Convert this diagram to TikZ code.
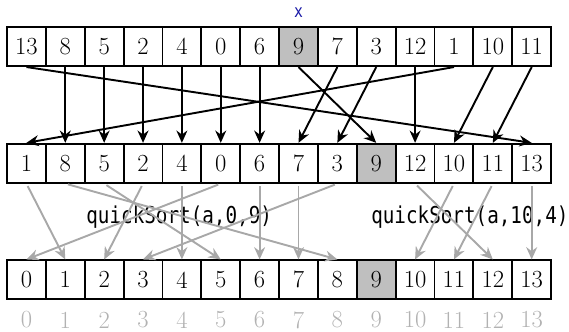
\documentclass[tikz,border=0pt]{standalone}
\usepackage{fontspec}
\usetikzlibrary{arrows.meta}
\newfontfamily\codefont[FakeStretch=0.83]{DejaVu Sans Mono}
\definecolor{pivotgray}{gray}{0.75}
\definecolor{movegray}{gray}{0.66}
\definecolor{indexgray}{gray}{0.70}
\definecolor{labelblue}{rgb}{0.1,0.1,0.65}
\begin{document}
\begin{tikzpicture}[x=1cm,y=1cm,
  cell/.style={draw,line width=1.4pt,minimum size=1cm,inner sep=0pt,
    font=\fontsize{18}{20}\selectfont},
  pivot/.style={cell,fill=pivotgray},
  move/.style={line width=1.4pt,-{Stealth[length=9pt,width=8pt]}},
  code/.style={font=\codefont\fontsize{17}{20}\selectfont},
  idx/.style={text=indexgray,font=\fontsize{18}{20}\selectfont}]
\useasboundingbox (-0.68,0) rectangle (13.96,-8.54);

% input array, after partition, sorted
\foreach \v/\s [count=\i from 0] in {13/cell,8/cell,5/cell,2/cell,4/cell,0/cell,6/cell,
    9/pivot,7/cell,3/cell,12/cell,1/cell,10/cell,11/cell}
  \node[\s] (a\i) at (\i,-1.2) {\v};
\foreach \v/\s [count=\i from 0] in {1/cell,8/cell,5/cell,2/cell,4/cell,0/cell,6/cell,
    7/cell,3/cell,9/pivot,12/cell,10/cell,11/cell,13/cell}
  \node[\s] (b\i) at (\i,-4.2) {\v};
\foreach \i in {0,...,13}{
  \ifnum\i=9 \node[pivot] (c\i) at (\i,-7.2) {\i};
  \else \node[cell] (c\i) at (\i,-7.2) {\i}; \fi
  \node[idx] (n\i) at (\i,-8.23) {\i};
}

\node[code,text=labelblue,font=\codefont\fontsize{13}{15}\selectfont] (xlbl) at (7,-0.33) {x};
\node[code] (qs1) at (3.93,-5.58) {quickSort(a,0,9)};
\node[code] (qs2) at (11.41,-5.58) {quickSort(a,10,4)};

% partition moves
\foreach \i/\j in {0/13,1/1,2/2,3/3,4/4,5/5,6/6,7/9,8/7,9/8,10/10,11/0,12/11,13/12}
  \draw[move] (a\i.south) -- (b\j.north);

% recursive sorts
\foreach \i/\j in {0/1,1/8,2/5,3/2,4/4,5/0,6/6,7/7,8/3,10/12,11/10,12/11,13/13}
  \draw[move,color=movegray,shorten <=2pt] (b\i.south) -- (c\j.north);
\end{tikzpicture}
\end{document}
